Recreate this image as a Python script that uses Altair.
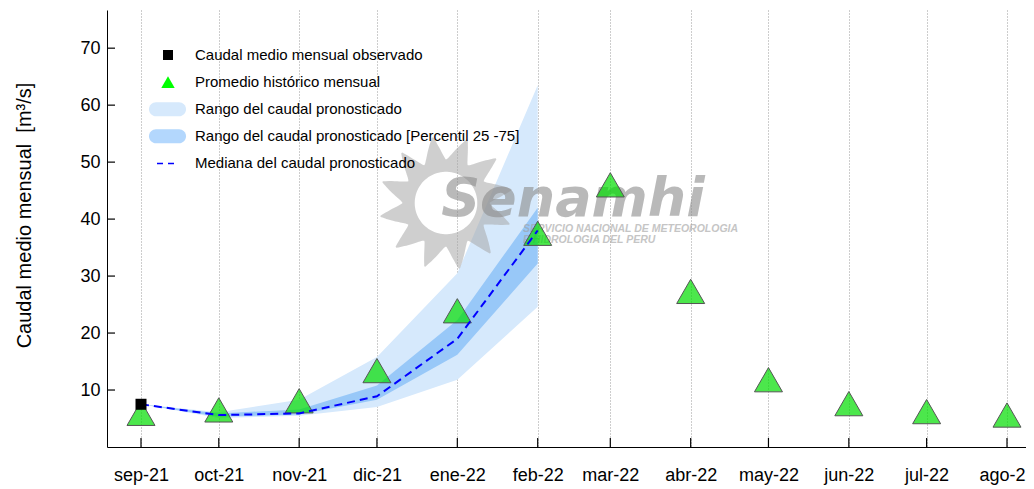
import altair as alt
import pandas as pd
import numpy as np
from datetime import datetime, timezone

# ---------------- data ----------------
months = ["2021-09-01", "2021-10-01", "2021-11-01", "2021-12-01", "2022-01-01", "2022-02-01",
          "2022-03-01", "2022-04-01", "2022-05-01", "2022-06-01", "2022-07-01", "2022-08-01"]
month_labels = ["sep-21", "oct-21", "nov-21", "dic-21", "ene-22", "feb-22",
                "mar-22", "abr-22", "may-22", "jun-22", "jul-22", "ago-22"]
historico = [5.2, 5.8, 7.4, 12.7, 23.2, 36.8, 45.3, 26.6, 11.1, 6.9, 5.5, 4.9]

obs_months = ["2021-09-01"]
observado = [7.5]

fc_months = ["2021-09-01", "2021-10-01", "2021-11-01", "2021-12-01", "2022-01-01", "2022-02-01"]
mediana = [7.5, 5.6, 5.9, 8.9, 19.0, 38.0]
rango_min = [7.5, 5.1, 5.5, 7.0, 11.8, 24.6]
rango_max = [7.5, 6.1, 8.3, 15.8, 30.5, 63.5]
p25 = [7.5, 5.3, 5.7, 8.3, 16.2, 32.2]
p75 = [7.5, 5.9, 6.6, 10.8, 22.3, 42.0]

y_ticks = [10, 20, 30, 40, 50, 60, 70]

legend_labels = ["Caudal medio mensual observado",
                 "Promedio histórico mensual",
                 "Rango del caudal pronosticado",
                 "Rango del caudal pronosticado [Percentil 25 -75]",
                 "Mediana del caudal pronosticado"]

y_title = "Caudal medio mensual\u00a0\u00a0[m³/s]"
logo_word = "Senamhi"
logo_line1 = "SERVICIO NACIONAL DE METEOROLOGIA"
logo_line2 = "E HIDROLOGIA DEL PERU"

# ---------------- helpers ----------------
def ms(s):
    return int(datetime.fromisoformat(s).replace(tzinfo=timezone.utc).timestamp() * 1000)

FONT = "Liberation Sans"
W, H = 919, 437
# pixel anchors of first / last month in plot coordinates
px_first, px_last = 34, 900
t_first, t_last = ms(months[0]), ms(months[-1])
k = (t_last - t_first) / (px_last - px_first)
x_domain = [t_first - px_first * k, t_first + (W - px_first) * k]

df_hist = pd.DataFrame({"t": [ms(m) for m in months], "v": historico})
df_obs = pd.DataFrame({"t": [ms(m) for m in obs_months], "v": observado})
df_fc = pd.DataFrame({"t": [ms(m) for m in fc_months], "med": mediana,
                      "lo": rango_min, "hi": rango_max, "q1": p25, "q3": p75})
df_yt = pd.DataFrame({"v": y_ticks})

y0 = datetime.fromisoformat(months[0])
lab_arr = "[" + ",".join("'%s'" % l for l in month_labels) + "]"
label_expr = "%s[(utcyear(datum.value)-%d)*12 + utcmonth(datum.value) - %d]" % (lab_arr, y0.year, y0.month - 1)

xscale = alt.Scale(type="utc", domain=x_domain, nice=False)
yscale = alt.Scale(domain=[0, 76.7], nice=False, zero=False)

x_axis = alt.Axis(values=[ms(m) for m in months], labelExpr=label_expr, title=None,
                  labelFont=FONT, labelFontSize=18, labelColor="black", labelPadding=19,
                  ticks=False, domainColor="black", domainWidth=1,
                  grid=True, gridDash=[1, 2], gridColor="#9a9a9a", gridWidth=1)
y_axis = alt.Axis(values=y_ticks, title=y_title, labelFont=FONT, labelFontSize=18,
                  labelColor="black", labelPadding=7, ticks=False, grid=False,
                  domainColor="black", domainWidth=1,
                  titleFont=FONT, titleFontSize=20, titleFontWeight="normal", titleColor="black",
                  titleAngle=270, titleX=-83, titleY=205, titleAlign="center", titleBaseline="middle")

base_fc = alt.Chart(df_fc)

band_full = base_fc.mark_area(color="#D6E9FC", opacity=1).encode(
    x=alt.X("t:T", scale=xscale, axis=x_axis),
    y=alt.Y("lo:Q", scale=yscale, axis=y_axis),
    y2="hi:Q")
band_iqr = base_fc.mark_area(color="#98C8F8", opacity=1).encode(
    x="t:T", y="q1:Q", y2="q3:Q")

# ---- watermark (decoration) ----
def sun_path(n_rays=12, rb=0.64, ri=0.46):
    pts = []
    N = 360
    for j in range(N):
        th = 2 * np.pi * j / N
        ph = (th * n_rays / (2 * np.pi)) % 1
        spike = ph / 0.62 if ph < 0.62 else (1 - ph) / 0.38
        r = rb + (1 - rb) * spike ** 1.4
        pts.append((r * np.cos(th), r * np.sin(th)))
    outer = "M" + "L".join("%.3f,%.3f" % p for p in pts) + "Z"
    inner_pts = [(ri * np.cos(-2 * np.pi * j / 90), ri * np.sin(-2 * np.pi * j / 90)) for j in range(90)]
    inner = "M" + "L".join("%.3f,%.3f" % p for p in inner_pts) + "Z"
    return outer + inner

one = alt.Data(values=[{"a": 1}])
wm_layers = []
wm_layers.append(alt.Chart(one).mark_point(shape=sun_path(), filled=True, color="#a8a8a8",
                                           opacity=0.55, size=136 * 136).encode(
    x=alt.value(339), y=alt.value(193)))
wm_layers.append(alt.Chart(one).mark_text(text=logo_word, font="DejaVu Sans", fontSize=54,
                                          fontWeight="bold", fontStyle="italic",
                                          color="#8c8c8c", opacity=0.6, align="center",
                                          baseline="alphabetic").encode(
    x=alt.value(466), y=alt.value(206)))
for i, line in enumerate([logo_line1, logo_line2]):
    wm_layers.append(alt.Chart(one).mark_text(text=line, font=FONT, fontSize=10.5,
                                              fontWeight="bold", fontStyle="italic",
                                              color="#a0a0a0", opacity=0.6, align="left",
                                              baseline="middle").encode(
        x=alt.value(416), y=alt.value(219 + 11 * i)))

# ---- data marks ----
tri_path = "M0,-1L0.866,0.5L-0.866,0.5Z"
hist_pts = alt.Chart(df_hist).mark_point(shape=tri_path, size=1045, filled=True,
                                         fill="#00DD00", fillOpacity=0.7, opacity=1,
                                         stroke="#555555", strokeWidth=1, strokeOpacity=1).encode(
    x="t:T", y="v:Q")
med_line = base_fc.mark_line(color="#0000FF", strokeWidth=2, strokeDash=[8, 5]).encode(
    x="t:T", y="med:Q")
obs_pts = alt.Chart(df_obs).mark_point(shape="square", size=121, filled=True, color="black",
                                       opacity=1).encode(x="t:T", y="v:Q")

# inward ticks
xticks = alt.Chart(df_hist).mark_rule(color="black", strokeWidth=1.2).encode(
    x="t:T", y=alt.value(H), y2=alt.value(H - 9))
yticks = alt.Chart(df_yt).mark_rule(color="black", strokeWidth=1.2).encode(
    y="v:Q", x=alt.value(0), x2=alt.value(8))

# ---- legend (drawn manually) ----
leg_y0, leg_dy = 45, 27.1
sym_x, txt_x = 61, 88
stadium = "M-0.62,-0.38L0.62,-0.38A0.38,0.38 0 0 1 0.62,0.38L-0.62,0.38A0.38,0.38 0 0 1 -0.62,-0.38Z"
leg = []
rows = [leg_y0 + leg_dy * i for i in range(len(legend_labels))]
leg.append(alt.Chart(one).mark_point(shape="square", size=100, filled=True, color="black",
                                     opacity=1).encode(x=alt.value(sym_x), y=alt.value(rows[0])))
leg.append(alt.Chart(one).mark_point(shape="triangle-up", size=180, filled=True, color="#00FF00",
                                     opacity=1).encode(x=alt.value(sym_x), y=alt.value(rows[1])))
leg.append(alt.Chart(one).mark_point(shape=stadium, size=37 * 37, filled=True, color="#D6E9FC",
                                     opacity=1).encode(x=alt.value(sym_x - 0.5), y=alt.value(rows[2])))
leg.append(alt.Chart(one).mark_point(shape=stadium, size=37 * 37, filled=True, color="#B3D7FD",
                                     opacity=1).encode(x=alt.value(sym_x - 0.5), y=alt.value(rows[3])))
leg.append(alt.Chart(one).mark_rule(color="#0000FF", strokeWidth=1.5, strokeDash=[6, 5]).encode(
    x=alt.value(sym_x - 11), x2=alt.value(sym_x + 7), y=alt.value(rows[4])))
for lab, yy in zip(legend_labels, rows):
    leg.append(alt.Chart(one).mark_text(text=lab, font=FONT, fontSize=15, color="black",
                                        align="left", baseline="middle").encode(
        x=alt.value(txt_x), y=alt.value(yy)))

chart = alt.layer(band_full, band_iqr, *wm_layers, hist_pts, med_line, obs_pts,
                  xticks, yticks, *leg).properties(
    width=W, height=H,
    autosize=alt.AutoSizeParams(type="none"),
    padding={"left": 99, "top": 2, "right": 0, "bottom": 40},
    background="white",
).configure_view(strokeWidth=0)

chart.save("out.html", embed_options={"renderer": "svg", "actions": False})
